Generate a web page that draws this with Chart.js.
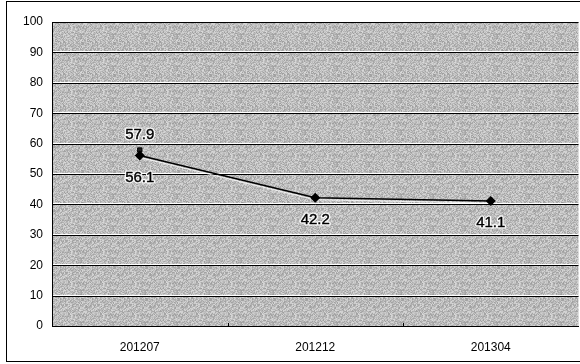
<!DOCTYPE html>
<html>
<head>
<meta charset="utf-8">
<script src="https://cdn.jsdelivr.net/npm/chart.js@4/dist/chart.umd.min.js"></script>
<style>
  html, body { margin: 0; padding: 0; background: #fff; overflow: hidden; }
  #wrap { width: 584px; height: 364px; }
</style>
</head>
<body>
<div id="wrap"><canvas id="c" width="584" height="364"></canvas></div>
<script>
// Survey periods and measured values
const periods = ['201207', '201212', '201304'];
const trendValues = [56.1, 42.2, 41.1];
const earlyValues = [57.9, null, null];
const yTicks = [0, 10, 20, 30, 40, 50, 60, 70, 80, 90, 100];

// Stippled grey fill for the plot area, built from an integer hash
function stipple() {
  const n = 32;
  const p = document.createElement('canvas');
  p.width = n; p.height = n;
  const g = p.getContext('2d');
  const img = g.createImageData(n, n);
  for (let y = 0; y < n; y++) for (let x = 0; x < n; x++) {
    let h = (x * 374761393 + y * 668265263) | 0;
    h = Math.imul(h ^ (h >>> 13), 1274126177);
    h = (h ^ (h >>> 16)) >>> 0;
    const v = 158 + (h % 60);
    const k = (y * n + x) * 4;
    img.data[k] = img.data[k + 1] = img.data[k + 2] = v;
    img.data[k + 3] = 255;
  }
  g.putImageData(img, 0, 0);
  return p;
}

const FONT = '"Liberation Sans", Arial, sans-serif';

const framePlugin = {
  id: 'frame',
  beforeDraw(chart) {
    const { ctx, chartArea: a } = chart;
    ctx.save();
    ctx.fillStyle = ctx.createPattern(stipple(), 'repeat');
    ctx.fillRect(a.left, a.top, a.right - a.left, a.bottom - a.top);
    // outer frame
    ctx.strokeStyle = '#000';
    ctx.lineWidth = 1;
    ctx.strokeRect(6.5, 1.5, chart.width, 360);
    ctx.restore();
  },
  beforeDatasetsDraw(chart) {
    const { ctx, chartArea: a, scales } = chart;
    const y = scales.y;
    ctx.save();
    ctx.lineWidth = 1;
    yTicks.forEach(v => {
      const py = Math.round(y.getPixelForValue(v));
      if (v > 0) {
        ctx.strokeStyle = '#ffffff';
        ctx.beginPath(); ctx.moveTo(a.left, py - 0.5); ctx.lineTo(a.right, py - 0.5); ctx.stroke();
      }
      ctx.strokeStyle = '#000000';
      ctx.beginPath(); ctx.moveTo(a.left, py + 0.5); ctx.lineTo(a.right, py + 0.5); ctx.stroke();
    });
    // value axis line
    ctx.beginPath();
    ctx.moveTo(a.left + 0.5, a.top); ctx.lineTo(a.left + 0.5, a.bottom + 1);
    ctx.stroke();
    // category boundary tick marks on the bottom axis
    const step = (a.right - a.left) / periods.length;
    for (let i = 1; i < periods.length; i++) {
      const px = Math.round(a.left + step * i) + 0.5;
      ctx.beginPath(); ctx.moveTo(px, a.bottom - 3); ctx.lineTo(px, a.bottom + 1); ctx.stroke();
    }
    // light halo under the trend line
    const meta = chart.getDatasetMeta(0);
    ctx.strokeStyle = 'rgba(255,255,255,0.8)';
    ctx.lineWidth = 1;
    ctx.beginPath();
    meta.data.forEach((pt, i) => {
      if (i === 0) ctx.moveTo(pt.x, pt.y + 2); else ctx.lineTo(pt.x, pt.y + 2);
    });
    ctx.stroke();
    ctx.restore();
  },
  afterDatasetsDraw(chart) {
    const { ctx } = chart;
    ctx.save();
    ctx.font = '15px ' + FONT;
    ctx.textAlign = 'center';
    ctx.textBaseline = 'middle';
    ctx.lineJoin = 'round';
    const put = (dsIndex, offset) => {
      const meta = chart.getDatasetMeta(dsIndex);
      const data = chart.data.datasets[dsIndex].data;
      meta.data.forEach((pt, i) => {
        if (data[i] == null) return;
        const txt = data[i].toFixed(1);
        ctx.strokeStyle = 'rgba(255,255,255,0.9)';
        ctx.lineWidth = 3;
        ctx.strokeText(txt, pt.x, pt.y + offset);
        ctx.fillStyle = '#000';
        ctx.fillText(txt, pt.x, pt.y + offset);
        ctx.lineWidth = 0.4;
        ctx.strokeStyle = '#000';
        ctx.strokeText(txt, pt.x, pt.y + offset);
      });
    };
    put(0, 22);
    put(1, -15);
    ctx.restore();
  }
};

new Chart(document.getElementById('c'), {
  type: 'line',
  data: {
    labels: periods,
    datasets: [
      {
        data: trendValues,
        borderColor: '#000',
        borderWidth: 1.5,
        pointStyle: 'rectRot',
        pointRadius: 4,
        pointBackgroundColor: '#000',
        pointBorderColor: '#000',
        tension: 0
      },
      {
        data: earlyValues,
        showLine: false,
        pointStyle: 'rect',
        pointRadius: 3,
        pointBackgroundColor: '#222',
        pointBorderColor: '#000',
        pointBorderWidth: 1
      }
    ]
  },
  options: {
    responsive: false,
    animation: false,
    layout: { padding: { top: 22, left: 0, right: 0, bottom: 0 } },
    plugins: { legend: { display: false }, tooltip: { enabled: false } },
    scales: {
      x: {
        offset: true,
        grid: { display: false, drawTicks: false },
        border: { display: true, color: '#000' },
        ticks: { color: '#000', padding: 14, font: { family: FONT, size: 12 } },
        afterFit(s) { s.height = 38; }
      },
      y: {
        min: 0, max: 100,
        afterBuildTicks(s) { s.ticks = yTicks.map(v => ({ value: v })); },
        grid: { display: false, drawTicks: false },
        border: { display: false },
        ticks: { color: '#000', padding: 9, font: { family: FONT, size: 12 } },
        afterFit(s) { s.width = 52; }
      }
    }
  },
  plugins: [framePlugin]
});
</script>
</body>
</html>
